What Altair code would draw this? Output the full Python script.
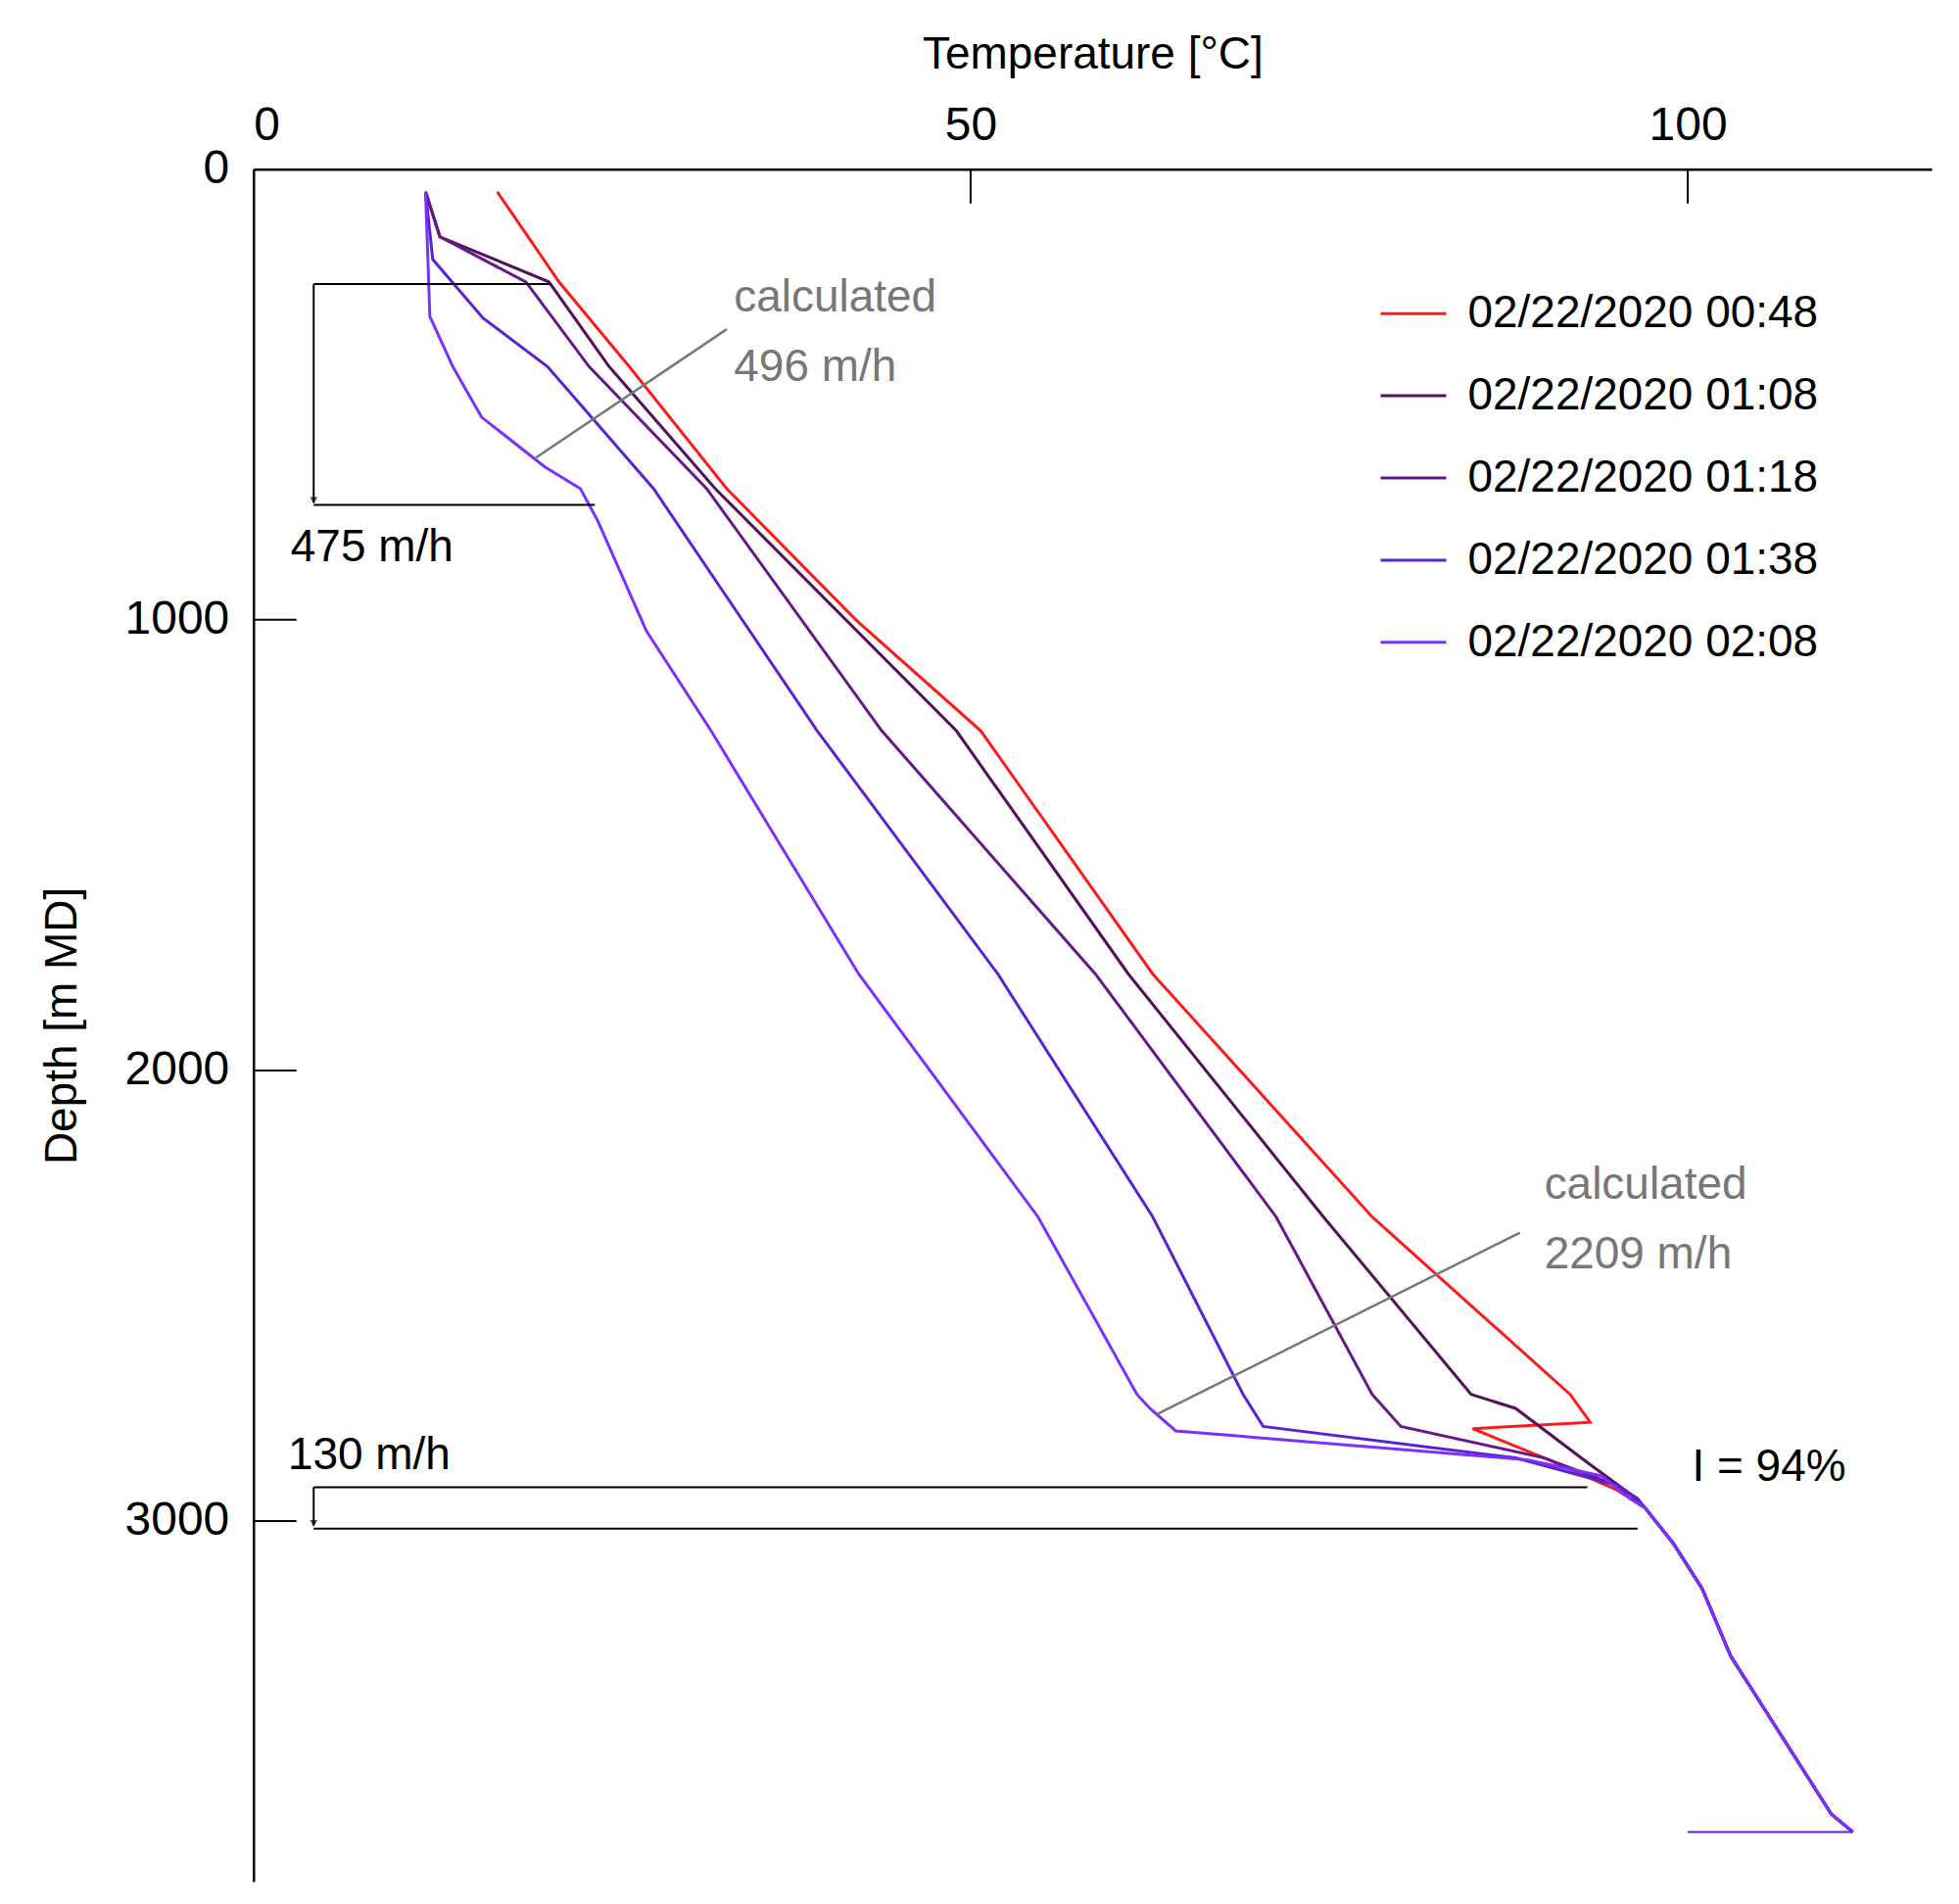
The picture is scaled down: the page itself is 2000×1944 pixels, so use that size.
import altair as alt
import pandas as pd

series_names = ["02/22/2020 00:48", "02/22/2020 01:08", "02/22/2020 01:18", "02/22/2020 01:38", "02/22/2020 02:08"]
colors = ["#ff1a1a", "#55105a", "#66188a", "#5a22d0", "#7a30ff"]

bottom_t = [97, 99, 101, 103, 106, 108, 110, 111.5]
bottom_d = [2970, 3050, 3150, 3300, 3450, 3550, 3650, 3690]

t_0048 = [17, 21.3, 26.2, 33, 42, 50.7, 62.7, 78, 91.8, 93.2, 85, 90, 95]
d_0048 = [50, 250, 438, 709, 1000, 1246, 1786, 2325, 2719, 2781, 2795, 2860, 2930]
t_0108 = [12, 13, 20.6, 24.8, 32.2, 49, 61, 74.6, 84.9, 88, 93, 96]
d_0108 = [50, 150, 250, 438, 709, 1246, 1786, 2325, 2719, 2750, 2870, 2940]
t_0118 = [12, 13, 19, 23.4, 31.6, 43.8, 58.7, 71.3, 78, 80, 90, 95, 96]
d_0118 = [50, 150, 250, 438, 709, 1246, 1786, 2325, 2719, 2790, 2860, 2920, 2950]
t_0138 = [12, 12.5, 16, 20.5, 27.9, 39.3, 51.9, 62.7, 69, 70.4, 88, 95, 96.5]
d_0138 = [50, 200, 330, 438, 709, 1246, 1786, 2325, 2719, 2790, 2860, 2920, 2950]
t_0208 = [12, 12.3, 13.9, 15.9, 20.3, 22.8, 24, 27.4, 31.9, 42.2, 54.7, 61.6, 62.5, 64.3, 88.8, 94, 96]
d_0208 = [50, 327, 438, 550, 660, 709, 780, 1025, 1246, 1786, 2325, 2719, 2750, 2800, 2864, 2900, 2950]

series_t = [t_0048, t_0108, t_0118, t_0138, t_0208]
series_d = [d_0048, d_0108, d_0118, d_0138, d_0208]

x_ticks = [0, 50, 100]
y_ticks = [0, 1000, 2000, 3000]

rows = []
for name, ts, ds in zip(series_names, series_t, series_d):
    for i, (t, d) in enumerate(zip(ts + bottom_t, ds + bottom_d)):
        rows.append({"s": name, "t": t, "d": d, "i": i})
df = pd.DataFrame(rows)

xs = alt.Scale(domain=[0, 117], nice=False)
ys = alt.Scale(domain=[0, 3800], reverse=True, nice=False)
X = alt.X("t:Q", scale=xs, axis=alt.Axis(orient="top", values=x_ticks, title="Temperature [°C]", ticks=False, labelPadding=20, titlePadding=25, grid=False))
Y = alt.Y("d:Q", scale=ys, axis=alt.Axis(values=y_ticks, format="d", title="Depth [m MD]", ticks=False, labelPadding=25, titlePadding=40, grid=False))

lines = alt.Chart(df).mark_line(strokeWidth=3).encode(
    x=X, y=Y,
    color=alt.Color("s:N", scale=alt.Scale(domain=series_names, range=colors),
                    legend=alt.Legend(title=None, orient="none", legendX=1150, legendY=112,
                                      symbolType="stroke", symbolSize=4500, symbolStrokeWidth=3,
                                      labelFontSize=46, labelLimit=0, rowPadding=25, labelOffset=20,
                                      labelFont="Liberation Sans")),
    order="i:Q", detail="s:N")

flat = alt.Chart(pd.DataFrame({"t": [100, 111.5], "d": [3690, 3690]})).mark_line(color="#5a22d0", strokeWidth=2).encode(x="t:Q", y="d:Q")

xt = alt.Chart(pd.DataFrame({"t": x_ticks[1:]})).mark_rule(color="black", strokeWidth=2).encode(x="t:Q", y=alt.value(0), y2=alt.value(35))
yt = alt.Chart(pd.DataFrame({"d": y_ticks[1:]})).mark_rule(color="black", strokeWidth=2).encode(y="d:Q", x=alt.value(0), x2=alt.value(44))

seg = pd.DataFrame({
    "t": [4.2, 4.2, 4.2, 4.2, 4.2, 4.2],
    "t2": [20.7, 4.2, 23.8, 93, 4.2, 96.5],
    "d": [255, 255, 745, 2925, 2925, 3017],
    "d2": [255, 740, 745, 2925, 3010, 3017]})
brackets = alt.Chart(seg).mark_rule(color="black", strokeWidth=2).encode(x="t:Q", x2="t2", y="d:Q", y2="d2")
arrows = alt.Chart(pd.DataFrame({"t": [4.2, 4.2], "d": [735, 3005]})).mark_point(shape="triangle-down", filled=True, color="black", size=60).encode(x="t:Q", y="d:Q")

gray = pd.DataFrame({"t": [19.7, 63], "t2": [33, 88.3], "d": [640, 2763], "d2": [355, 2360]})
graylines = alt.Chart(gray).mark_rule(color="#777777", strokeWidth=2.5).encode(x="t:Q", x2="t2", y="d:Q", y2="d2")

ann = pd.DataFrame({
    "t": [2.6, 2.4, 33.5, 33.5, 90, 90, 100.3],
    "d": [840, 2855, 285, 440, 2254, 2408, 2880],
    "txt": ["475 m/h", "130 m/h", "calculated", "496 m/h", "calculated", "2209 m/h", "I = 94%"],
    "c": ["black", "black", "#777777", "#777777", "#777777", "#777777", "black"]})
texts = alt.Chart(ann).mark_text(align="left", baseline="middle", fontSize=46, font="Liberation Sans").encode(
    x="t:Q", y="d:Q", text="txt:N", color=alt.Color("c:N", scale=None))

chart = alt.layer(lines, flat, xt, yt, brackets, arrows, graylines, texts).properties(
    width=1715, height=1750, autosize=alt.AutoSizeParams(type="none"),
    padding={"left": 251, "top": 164, "right": 20, "bottom": 10}
).configure_view(stroke=None).configure_axis(
    domainColor="black", domainWidth=2.5, labelFontSize=48, titleFontSize=46,
    labelFont="Liberation Sans", titleFont="Liberation Sans", labelColor="black", titleColor="black",
    titleFontWeight="normal")

chart.save("out.html", embed_options={"renderer": "svg", "actions": False})
